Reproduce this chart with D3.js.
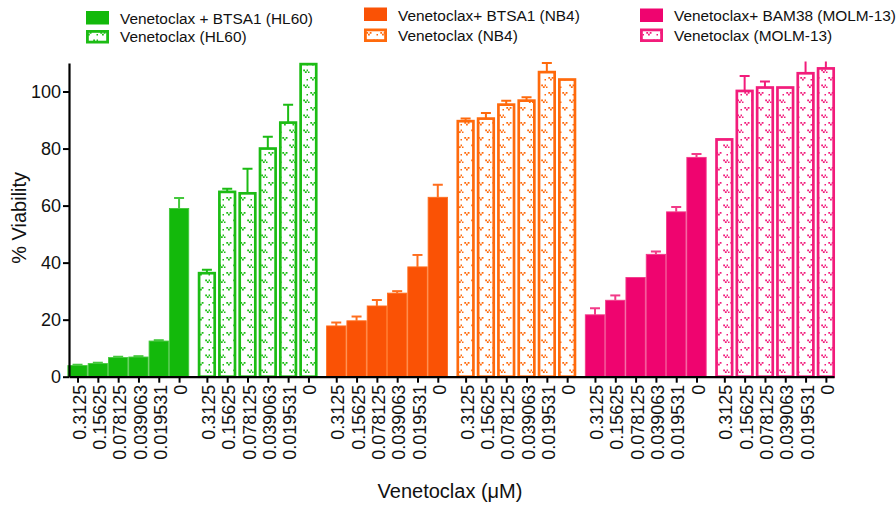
<!DOCTYPE html>
<html>
<head>
<meta charset="utf-8">
<script src="https://cdn.jsdelivr.net/npm/d3@7"></script>
<style>
  html, body { margin: 0; padding: 0; background: #fff; }
  svg { display: block; font-family: "Liberation Sans", Arial, Helvetica, sans-serif; }
</style>
</head>
<body>
<svg id="chart" width="896" height="508"></svg>
<script>
// Venetoclax concentrations (µM) shown under each bar, repeated per series
const concentrations = ["0.3125", "0.15625", "0.078125", "0.039063", "0.019531", "0"];

// Series labels (legend order)
const seriesNames = [
  "Venetoclax + BTSA1 (HL60)",
  "Venetoclax (HL60)",
  "Venetoclax+ BTSA1 (NB4)",
  "Venetoclax (NB4)",
  "Venetoclax+ BAM38 (MOLM-13)",
  "Venetoclax (MOLM-13)"
];

// Mean % viability and upper error (SD) per concentration
const hl60Combo    = [3.9, 4.6, 6.7, 6.9, 12.5, 59.0];
const hl60ComboErr = [0.3, 0.3, 0.3, 0.3, 0.3, 3.7];
const hl60Ven      = [36.3, 64.8, 64.3, 80.0, 89.1, 109.6];
const hl60VenErr   = [1.2, 1.1, 8.6, 4.1, 6.3, 0];
const nb4Combo     = [17.8, 19.6, 24.8, 29.3, 38.5, 62.9];
const nb4ComboErr  = [1.2, 1.5, 2.1, 0.7, 4.2, 4.4];
const nb4Ven       = [89.6, 90.5, 95.4, 96.8, 106.8, 104.2];
const nb4VenErr    = [0.9, 2.0, 1.4, 1.2, 3.2, 0];
const molmCombo    = [21.7, 26.8, 34.8, 42.9, 57.8, 76.9];
const molmComboErr = [2.3, 1.7, 0, 1.0, 1.7, 1.2];
const molmVen      = [83.2, 100.2, 101.4, 101.4, 106.4, 108.1];
const molmVenErr   = [0, 5.2, 2.1, 0, 6.0, 6.0];

const yTicks = [0, 20, 40, 60, 80, 100];

// Styling per series
const fills   = ["#13b90b", "#13b90b", "#fa5205", "#ff6a0c", "#ef046f", "#f21c7b"];
const strokes = ["#44c83c", "#1cbc14", "#ff6e1e", "#ff6a0c", "#f23a88", "#f21c7b"];
const openSeries = [false, true, false, true, false, true];

const seriesValues = [hl60Combo, hl60Ven, nb4Combo, nb4Ven, molmCombo, molmVen];
const seriesErrors = [hl60ComboErr, hl60VenErr, nb4ComboErr, nb4VenErr, molmComboErr, molmVenErr];

const svg = d3.select("#chart");
const defs = svg.append("defs");

// Dotted "v" fill pattern for the venetoclax-alone bars
seriesNames.forEach((name, s) => {
  if (!openSeries[s]) return;
  const p = defs.append("pattern")
    .attr("id", "pat" + s)
    .attr("patternUnits", "userSpaceOnUse")
    .attr("width", 14).attr("height", 15);
  p.append("rect").attr("width", 14).attr("height", 15).attr("fill", "#fff");
  const vMark = "h1.8v1.8h-1.8z m3.4,0h1.8v1.8h-1.8z m-1.7,1.8h1.8v1.8h-1.8z";
  p.append("path").attr("d", "M2.3,2" + vMark + " M9.2,9.5" + vMark).attr("fill", strokes[s]);
  p.append("rect").attr("x", 12.5).attr("y", 4).attr("width", 1.5).attr("height", 1.5).attr("fill", strokes[s]);
  p.append("rect").attr("x", 0).attr("y", 11.5).attr("width", 1.5).attr("height", 1.5).attr("fill", strokes[s]);
});

// Layout
const plotLeft = 69, plotRight = 834, plotTop = 63, plotBottom = 376.7;
const groupGap = 0.37;               // extra slot space between series groups
const perGroup = concentrations.length;
const slotOf = (g, i) => g * (perGroup + groupGap) + i;
const lastSlot = slotOf(seriesNames.length - 1, perGroup - 1);

const x = d3.scaleLinear().domain([-0.42, lastSlot + 0.4]).range([plotLeft, plotRight]);
const y = d3.scaleLinear().domain([0, 110]).range([plotBottom, plotTop]);
const step = x(1) - x(0);

// Flatten to bar records
const bars = [];
seriesValues.forEach((vals, g) => {
  vals.forEach((v, i) => {
    bars.push({ g, i, v, e: seriesErrors[g][i], slot: slotOf(g, i), label: concentrations[i] });
  });
});

defs.append("clipPath").attr("id", "plotClip")
  .append("rect").attr("x", 0).attr("y", plotTop - 1.5).attr("width", 896).attr("height", 508);

const barLayer = svg.append("g").attr("clip-path", "url(#plotClip)");

// Solid (combination) bars
barLayer.selectAll("rect.solid")
  .data(bars.filter(d => !openSeries[d.g]))
  .join("rect")
  .attr("class", "solid")
  .attr("x", d => x(d.slot) - step / 2 + 0.5)
  .attr("width", step - 1)
  .attr("y", d => y(d.v))
  .attr("height", d => y(0) - y(d.v))
  .attr("fill", d => fills[d.g])
  .attr("stroke", d => strokes[d.g])
  .attr("stroke-width", 0.9);

// Open (venetoclax alone) patterned bars
const openW = 15.6;
barLayer.selectAll("rect.open")
  .data(bars.filter(d => openSeries[d.g]))
  .join("rect")
  .attr("class", "open")
  .attr("x", d => x(d.slot) - openW / 2)
  .attr("width", openW)
  .attr("y", d => y(d.v))
  .attr("height", d => y(0) - y(d.v))
  .attr("fill", d => "url(#pat" + d.g + ")")
  .attr("stroke", d => strokes[d.g])
  .attr("stroke-width", 2.7);

// Upper error bars
const errBars = bars.filter(d => d.e > 0);
const capHalf = 5;
barLayer.selectAll("line.err")
  .data(errBars)
  .join("line")
  .attr("class", "err")
  .attr("x1", d => x(d.slot)).attr("x2", d => x(d.slot))
  .attr("y1", d => y(d.v)).attr("y2", d => y(d.v + d.e))
  .attr("stroke", d => strokes[d.g])
  .attr("stroke-width", 2);
barLayer.selectAll("line.cap")
  .data(errBars.filter(d => d.v + d.e <= 110))
  .join("line")
  .attr("class", "cap")
  .attr("x1", d => x(d.slot) - capHalf).attr("x2", d => x(d.slot) + capHalf)
  .attr("y1", d => y(d.v + d.e)).attr("y2", d => y(d.v + d.e))
  .attr("stroke", d => strokes[d.g])
  .attr("stroke-width", 2);

// Y axis
const yAxis = svg.append("g")
  .attr("transform", `translate(${plotLeft},0)`)
  .call(d3.axisLeft(y).tickValues(yTicks).tickSize(6).tickSizeOuter(0).tickPadding(2));
yAxis.select(".domain").attr("stroke", "#000").attr("stroke-width", 2.2);
yAxis.selectAll(".tick line").attr("stroke", "#000").attr("stroke-width", 2);
yAxis.selectAll(".tick text").attr("font-size", 18).attr("fill", "#111")
  .attr("font-family", "'Liberation Sans', Arial, sans-serif");

// X axis: one tick per bar, concentration labels rotated
const labelBySlot = new Map(bars.map(d => [d.slot, d.label]));
const xAxis = svg.append("g")
  .attr("transform", `translate(0,${plotBottom})`)
  .call(d3.axisBottom(x)
    .tickValues(bars.map(d => d.slot))
    .tickFormat(s => labelBySlot.get(s))
    .tickSize(6).tickSizeOuter(0));
xAxis.select(".domain").attr("stroke", "#000").attr("stroke-width", 2.2);
xAxis.selectAll(".tick line").attr("stroke", "#000").attr("stroke-width", 2);
xAxis.selectAll(".tick text")
  .attr("font-size", 18).attr("fill", "#111")
  .attr("font-family", "'Liberation Sans', Arial, sans-serif")
  .attr("transform", "rotate(-90)")
  .attr("text-anchor", "end")
  .attr("x", -8).attr("y", 0).attr("dy", "0.42em");

// Axis titles
svg.append("text")
  .attr("transform", "rotate(-90)")
  .attr("x", -(plotTop + plotBottom) / 2 + 2)
  .attr("y", 25.5)
  .attr("text-anchor", "middle")
  .attr("font-size", 20).attr("fill", "#111")
  .text("% Viability");

svg.append("text")
  .attr("x", 450).attr("y", 497.5)
  .attr("text-anchor", "middle")
  .attr("font-size", 20).attr("fill", "#111")
  .text("Venetoclax (\u03BCM)");

// Legend: three columns, two rows each
const legendCols = [
  { x: 86,  rows: [11, 30],   base: [23.5, 42] },
  { x: 364, rows: [7.5, 28.5], base: [20.5, 40.5] },
  { x: 640, rows: [8.5, 28.5], base: [20.5, 40.5] }
];
const swW = 23, swH = 13.5;
seriesNames.forEach((name, s) => {
  const col = legendCols[Math.floor(s / 2)];
  const r = s % 2;
  const g = svg.append("g");
  if (openSeries[s]) {
    g.append("rect")
      .attr("x", col.x + 1.4).attr("y", col.rows[r] + 1.4)
      .attr("width", swW - 2.8).attr("height", swH - 2.8)
      .attr("fill", "url(#pat" + s + ")")
      .attr("stroke", strokes[s]).attr("stroke-width", 2.8);
  } else {
    g.append("rect")
      .attr("x", col.x).attr("y", col.rows[r])
      .attr("width", swW).attr("height", swH)
      .attr("fill", fills[s]);
  }
  g.append("text")
    .attr("x", col.x + 34).attr("y", col.base[r])
    .attr("font-size", 15.4).attr("fill", "#111")
    .text(name);
});
</script>
</body>
</html>
